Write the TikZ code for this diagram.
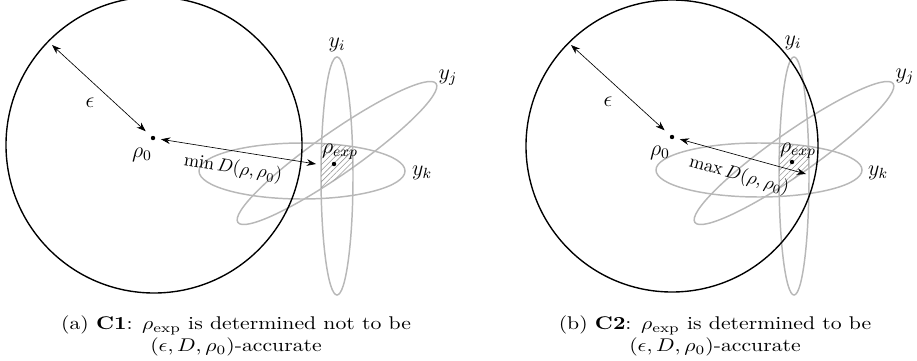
\documentclass[tikz,border=0pt]{standalone}
\usepackage{amsmath,amssymb}
\usepackage{tikz}
\usetikzlibrary{arrows.meta,patterns.meta,positioning}
\tikzset{
  ball/.style={draw=black,line width=0.75pt},
  meas/.style={draw=black!28,line width=0.8pt},
  dist/.style={{Stealth[length=5pt,width=3.6pt]}-{Stealth[length=5pt,width=3.6pt]},line width=0.35pt},
  pt/.style={circle,fill=black,inner sep=0pt,minimum size=2.4pt},
  hatch/.style={pattern={Lines[angle=45,distance=2.2pt,line width=0.3pt]},pattern color=black!40},
  lab/.style={inner sep=1pt,font=\large},
  capt/.style={align=center,xscale=1.18,transform shape},
}

\begin{document}
\begin{tikzpicture}[x=0.5435pt,y=-0.5435pt]
  \useasboundingbox (0,0) rectangle (917,360);

  % (a)
  \draw[meas] (337,176) ellipse (16 and 119);
  \draw[meas] (302,171) ellipse (103 and 28);
  \draw[meas,rotate around={35:(337,153)}] (337,153) ellipse (121 and 21);
  \begin{scope}
    \clip (337,176) ellipse (16 and 119);
    \clip (302,171) ellipse (103 and 28);
    \fill[hatch,rotate around={35:(337,153)}] (337,153) ellipse (121 and 21);
  \end{scope}
  \draw[ball] (154,145) circle (148);

  \node[pt] (r0a) at (153,138) {};
  \node[lab] (r0alab) at (142,155) {$\rho_0$};
  \coordinate (ea) at (52,45);
  \draw[dist,shorten >=4pt] (ea) -- (r0a);
  \node[lab] (epsa) at (90,103) {$\epsilon$};
  \node[pt] (rxa) at (334,164) {};
  \node[lab] (rxalab) at (340,152) {$\rho_{exp}$};
  \coordinate (da) at (316,164);
  \draw[dist,shorten <=3pt] (r0a) -- node[sloped,below=1pt,pos=0.5] {$\min D(\rho,\rho_0)$} (da);
  \node[lab] (yia) at (337,45) {$y_i$};
  \node[lab] (yja) at (448,78) {$y_j$};
  \node[lab] (yka) at (422,173) {$y_k$};

  % (b)
  \draw[meas] (794,176) ellipse (15 and 119);
  \draw[meas] (759,170) ellipse (103 and 27);
  \draw[meas,rotate around={35:(794,153)}] (794,153) ellipse (121 and 21);
  \begin{scope}
    \clip (794,176) ellipse (15 and 119);
    \clip (759,170) ellipse (103 and 27);
    \fill[hatch,rotate around={35:(794,153)}] (794,153) ellipse (121 and 21);
  \end{scope}
  \draw[ball] (672,146) circle (146);

  \node[pt] (r0b) at (672,137) {};
  \node[lab] (r0blab) at (660,153) {$\rho_0$};
  \coordinate (eb) at (571,45);
  \draw[dist,shorten >=4pt] (eb) -- (r0b);
  \node[lab] (epsb) at (608,102) {$\epsilon$};
  \node[pt] (rxb) at (792,162) {};
  \node[lab] (rxblab) at (798,151) {$\rho_{exp}$};
  \coordinate (db) at (806,174);
  \draw[dist,shorten <=3pt] (r0b) -- node[sloped,below=2pt,pos=0.53] {$\max D(\rho,\rho_0)$} (db);
  \node[lab] (yib) at (793,43) {$y_i$};
  \node[lab] (yjb) at (905,77) {$y_j$};
  \node[lab] (ykb) at (878,173) {$y_k$};

  % captions
  \node[capt] (capa) at (236,336) {(a) \textbf{C1}: $\rho_{\mathrm{exp}}$ is determined not to be\\$(\epsilon, D, \rho_0)$-accurate};
  \node[capt] (capb) at (715,336) {(b) \textbf{C2}: $\rho_{\mathrm{exp}}$ is determined to be\\$(\epsilon, D, \rho_0)$-accurate};
\end{tikzpicture}
\end{document}
